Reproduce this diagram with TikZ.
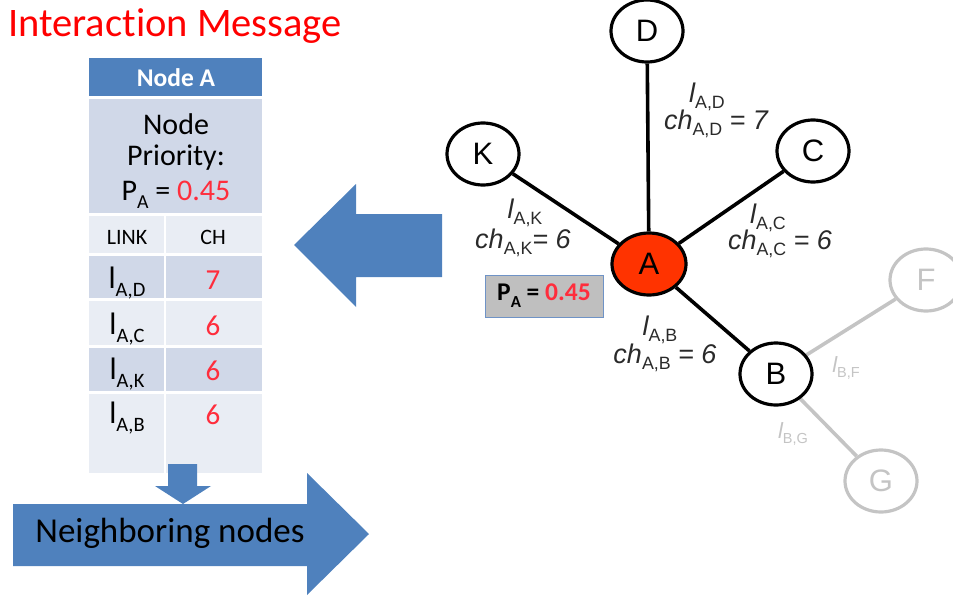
\documentclass[tikz,border=0pt]{standalone}
\usepackage{fontspec}
\setmainfont[Ligatures=NoCommon]{Carlito}
\newfontfamily\arialf{Liberation Sans}
\usetikzlibrary{shapes.geometric,backgrounds}
\definecolor{hdrblue}{HTML}{4F81BD}
\definecolor{rowdark}{HTML}{D0D8E8}
\definecolor{rowlight}{HTML}{E9EDF4}
\definecolor{numred}{HTML}{FF2D3C}
\definecolor{nodered}{HTML}{FF3300}
\definecolor{lblgray}{HTML}{2A2A2A}
\definecolor{faint}{HTML}{C4C4C4}
\definecolor{pbox}{HTML}{BFBFBF}
\definecolor{pboxedge}{HTML}{6F93C6}
\newcommand\mysub[1]{\raisebox{-0.28em}{\scalebox{0.66}{#1}}}
\newcommand\tsub[1]{\raisebox{-0.22em}{\scalebox{0.66}{\upshape #1}}}
\tikzset{
  cellbox/.style={inner sep=0pt},
  gnode/.style={ellipse, draw=black, line width=3.2pt, fill=white, minimum width=72pt, minimum height=62pt, inner sep=0pt, font=\arialf\fontsize{31}{31}\selectfont},
  fnode/.style={gnode, draw=faint, text=faint},
  edge/.style={line width=3.6pt, draw=black},
  fedge/.style={line width=3.6pt, draw=faint},
  elbl/.style={inner sep=0pt, text=lblgray, font=\arialf\itshape\fontsize{27}{27}\selectfont},
  flbl/.style={elbl, text=faint, font=\arialf\itshape\fontsize{22}{22}\selectfont},
  tbltxt/.style={inner sep=0pt, anchor=base, font=\fontsize{31}{31}\selectfont},
  tblnum/.style={inner sep=0pt, anchor=base, text=numred, font=\fontsize{29}{29}\selectfont}
}
\begin{document}
\begin{tikzpicture}[x=1pt,y=-1pt]
\useasboundingbox (0,0) rectangle (953,597);
% title
\node[anchor=base west, inner sep=0pt, text=red, font=\fontsize{40.5}{40.5}\selectfont] (title) at (8,36) {Interaction Message};
% table rows
\fill[hdrblue] (89,58) rectangle (262,96);
\fill[rowdark] (89,99) rectangle (262,213);
\fill[rowlight] (89,216) rectangle (262,253);
\fill[rowdark] (89,256) rectangle (262,298);
\fill[rowlight] (89,301) rectangle (262,345);
\fill[rowdark] (89,348) rectangle (262,391);
\fill[rowlight] (89,394) rectangle (262,473);
\draw[white, line width=2pt] (165,214) -- (165,473);
% table text
\node[cellbox, text=white, font=\bfseries\fontsize{25.5}{25.5}\selectfont] (hdr) at (176,78) {Node A};
\node[cellbox, font=\fontsize{30}{30}\selectfont] (np1) at (176,124) {Node};
\node[cellbox, font=\fontsize{30}{30}\selectfont] (np2) at (176,158) {Priority:};
\node[cellbox, anchor=base, font=\fontsize{30}{30}\selectfont] (np3) at (176,200) {P\mysub{A} = \textcolor{numred}{0.45}};
\node[cellbox, font=\fontsize{22}{22}\selectfont] (link) at (127,237) {LINK};
\node[cellbox, font=\fontsize{22}{22}\selectfont] (ch) at (213,237) {CH};
\node[tbltxt] (lad) at (127,288) {l\mysub{A,D}};
\node[tblnum] (vad) at (213,289) {7};
\node[tbltxt] (lac) at (127,334) {l\mysub{A,C}};
\node[tblnum] (vac) at (213,335) {6};
\node[tbltxt] (lak) at (127,379) {l\mysub{A,K}};
\node[tblnum] (vak) at (213,380) {6};
\node[tbltxt] (lab) at (127,423) {l\mysub{A,B}};
\node[tblnum] (vab) at (213,424) {6};
% arrows
\fill[hdrblue] (294,245) -- (356,184) -- (356,214) -- (442,214) -- (442,277) -- (356,277) -- (356,307) -- cycle;
\fill[hdrblue] (168,464) -- (197,464) -- (197,486) -- (211,486) -- (183,504) -- (155,486) -- (168,486) -- cycle;
\fill[hdrblue] (13,504) -- (307,504) -- (307,473) -- (369,534) -- (307,595) -- (307,566) -- (13,566) -- cycle;
\node[inner sep=0pt, font=\fontsize{35}{35}\selectfont] (neigh) at (170,533) {Neighboring nodes};
% graph nodes
\node[gnode] (D) at (647,31) {D};
\node[gnode] (K) at (483,154) {K};
\node[gnode] (C) at (813,151) {C};
\node[gnode, fill=nodered, minimum width=74pt] (A) at (649,264) {A};
\node[gnode] (B) at (776,374) {B};
\node[fnode] (F) at (926,280) {F};
\node[fnode] (G) at (881,481) {G};
% edges
\begin{scope}[on background layer]
\draw[edge] (A) -- (D);
\draw[edge] (A) -- (K);
\draw[edge] (A) -- (C);
\draw[edge] (A) -- (B);
\draw[fedge] (B) -- (F);
\draw[fedge] (B) -- (G);
\end{scope}
% edge labels
\node[elbl] (lblad1) at (707,97) {l\tsub{A,D}};
\node[elbl] (lblad2) at (716,124) {ch\tsub{A,D} = 7};
\node[elbl] (lblak1) at (525,213) {l\tsub{A,K}};
\node[elbl] (lblak2) at (523,243) {ch\tsub{A,K}= 6};
\node[elbl] (lblac1) at (768,218) {l\tsub{A,C}};
\node[elbl] (lblac2) at (780,244) {ch\tsub{A,C} = 6};
\node[elbl] (lblab1) at (660,330) {l\tsub{A,B}};
\node[elbl] (lblab2) at (665,358) {ch\tsub{A,B} = 6};
\node[flbl] (lblbf) at (846,368) {l\tsub{B,F}};
\node[flbl] (lblbg) at (793,434) {l\tsub{B,G}};
% P_A box
\node[draw=pboxedge, fill=pbox, line width=1pt, minimum width=118pt, minimum height=42pt, inner sep=0pt, font=\bfseries\fontsize{25.5}{25.5}\selectfont] (pa) at (544,296) {P\mysub{A} = \textcolor{numred}{0.45}};
\end{tikzpicture}
\end{document}
